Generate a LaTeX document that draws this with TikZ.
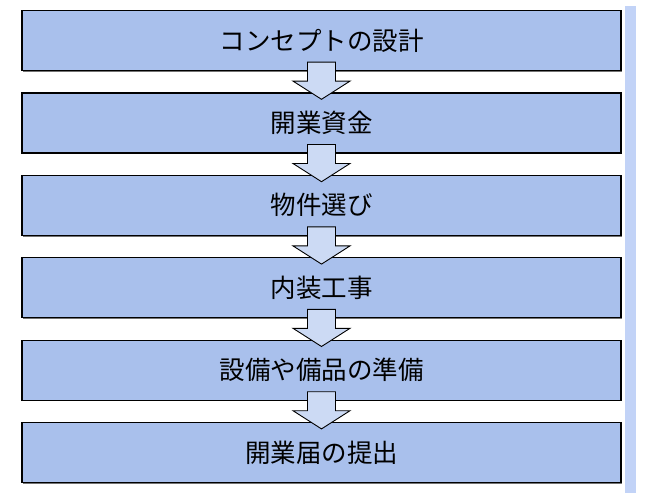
\documentclass[tikz,border=0pt]{standalone}
\usepackage{fontspec}
\newfontfamily\jpfont{Noto Sans CJK JP}
\usetikzlibrary{positioning,calc,shadows}
\definecolor{boxblue}{RGB}{169,192,236}
\definecolor{arrowblue}{RGB}{204,218,244}
\definecolor{barblue}{RGB}{194,211,247}

\begin{document}
\begin{tikzpicture}[x=1pt,y=1pt,
  stepbox/.style={draw=black, line width=1.2pt, fill=boxblue,
    minimum width=599pt, minimum height=60pt, inner sep=0pt,
    font=\jpfont\fontsize{25.5}{25.5}\selectfont,
    drop shadow={shadow xshift=1pt, shadow yshift=-1.2pt, fill=black!55, opacity=1}},
  flowarrow/.style={draw=black, line width=0.9pt, fill=arrowblue, line join=miter},
  node distance=21.2pt]
  \useasboundingbox (0,0) rectangle (652,-498);

  % side bar
  \fill[barblue] (625,-6) rectangle (636,-493);

  % steps
  \node[stepbox] (concept) at (321.5,-40.5) {コンセプトの設計};
  \node[stepbox, below=of concept] (funds) {開業資金};
  \node[stepbox, below=of funds] (property) {物件選び};
  \node[stepbox, below=of property] (interior) {内装工事};
  \node[stepbox, below=of interior] (equip) {設備や備品の準備};
  \node[stepbox, below=of equip] (notice) {開業届の提出};

  % block arrows between steps
  \foreach \a/\b in {concept/funds, funds/property, property/interior,
                     interior/equip, equip/notice}
    \draw[flowarrow] ($(\a.south)+(-14,9)$) -- ($(\a.south)+(14,9)$)
      -- ($(\a.south)+(14,-10)$) -- ($(\a.south)+(28.5,-10)$)
      -- ($(\b.north)+(0,-7)$)
      -- ($(\a.south)+(-28.5,-10)$) -- ($(\a.south)+(-14,-10)$) -- cycle;
\end{tikzpicture}
\end{document}
